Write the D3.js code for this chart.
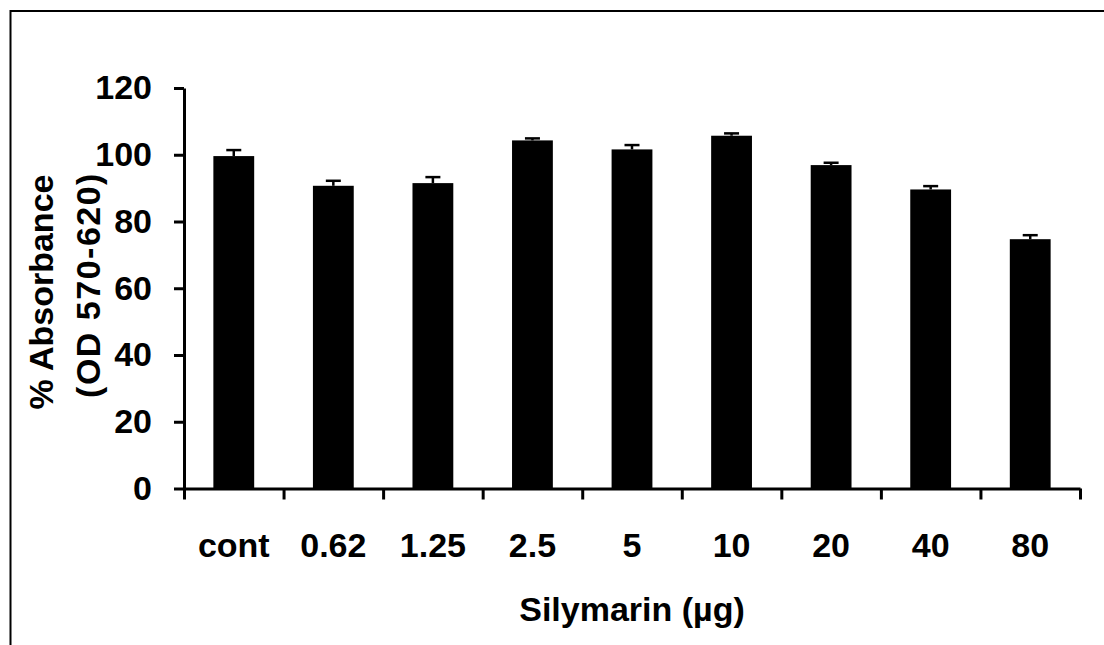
<!DOCTYPE html>
<html>
<head>
<meta charset="utf-8">
<script src="https://cdn.jsdelivr.net/npm/d3@7"></script>
<style>
    html, body { margin: 0; padding: 0; background: #fff; }
    svg text { font-family: "Liberation Sans", Arial, sans-serif; font-weight: bold; fill: #000; }
</style>
</head>
<body>
<div id="chart"></div>
<script>
const categories = ["cont", "0.62", "1.25", "2.5", "5", "10", "20", "40", "80"];
const meanValues = [99.6, 90.7, 91.5, 104.3, 101.6, 105.7, 96.9, 89.6, 74.7];
const errorValues = [1.8, 1.5, 1.8, 0.6, 1.3, 0.7, 0.7, 1.0, 1.2];
const yTickValues = [0, 20, 40, 60, 80, 100, 120];
const xTitle = "Silymarin (µg)";
const yTitleLines = ["% Absorbance", "(OD 570-620)"];

const width = 1104;
const height = 645;
const margin = {left: 184, right: 24, top: 88, bottom: 156.5};
const fontSize = 34;

let data = categories.map((c, i) => ({cat: c, value: meanValues[i], err: errorValues[i]}));

let svg = d3.select("#chart")
    .append("svg")
    .attr("width", width)
    .attr("height", height);

// outer frame (only top and left edges visible)
svg.append("path")
    .attr("d", "M10.5,645V11H1104")
    .attr("fill", "none")
    .attr("stroke", "#000")
    .attr("stroke-width", 2);

let x = d3.scaleBand()
    .domain(categories)
    .range([margin.left, width - margin.right])
    .paddingInner(0.59)
    .paddingOuter(0.295);

let y = d3.scaleLinear()
    .domain([0, 120])
    .range([height - margin.bottom, margin.top]);

// tick positions between categories
let xEdges = d3.scaleLinear()
    .domain([0, categories.length])
    .range([margin.left, width - margin.right]);

// bars
svg.append("g")
    .attr("class", "bars")
    .selectAll("rect")
    .data(data)
    .enter().append("rect")
    .attr("x", d => x(d.cat))
    .attr("y", d => y(d.value))
    .attr("width", x.bandwidth())
    .attr("height", d => y(0) - y(d.value))
    .attr("fill", "#000");

// error bars (upper only)
let errG = svg.append("g").attr("class", "errors")
    .attr("stroke", "#000")
    .attr("stroke-width", 2.5);

errG.selectAll("line.stem")
    .data(data)
    .enter().append("line")
    .attr("class", "stem")
    .attr("x1", d => x(d.cat) + x.bandwidth() / 2)
    .attr("x2", d => x(d.cat) + x.bandwidth() / 2)
    .attr("y1", d => y(d.value))
    .attr("y2", d => y(d.value + d.err));

errG.selectAll("line.cap")
    .data(data)
    .enter().append("line")
    .attr("class", "cap")
    .attr("x1", d => x(d.cat) + x.bandwidth() / 2 - 7.5)
    .attr("x2", d => x(d.cat) + x.bandwidth() / 2 + 7.5)
    .attr("y1", d => y(d.value + d.err))
    .attr("y2", d => y(d.value + d.err));

// y axis
let gy = svg.append("g")
    .attr("transform", `translate(${margin.left},0)`)
    .call(d3.axisLeft(y).tickValues(yTickValues).tickSize(10).tickSizeOuter(0).tickPadding(22));
gy.select(".domain").attr("stroke-width", 3);
gy.selectAll(".tick line").attr("stroke-width", 3);
gy.selectAll(".tick text")
    .style("font-size", fontSize + "px")
    .style("font-family", null);

// x axis: ticks at the category edges
let gx = svg.append("g")
    .attr("transform", `translate(0,${y(0)})`)
    .call(d3.axisBottom(xEdges).tickValues(d3.range(categories.length + 1)).tickSize(11).tickSizeOuter(0).tickFormat(""));
gx.select(".domain").attr("stroke-width", 3);
gx.selectAll(".tick line").attr("stroke-width", 3);

// x labels
svg.append("g")
    .selectAll("text")
    .data(categories)
    .enter().append("text")
    .attr("x", d => x(d) + x.bandwidth() / 2)
    .attr("y", 557)
    .attr("text-anchor", "middle")
    .style("font-size", fontSize + "px")
    .text(d => d);

// x title
svg.append("text")
    .attr("x", (margin.left + width - margin.right) / 2)
    .attr("y", 621)
    .attr("text-anchor", "middle")
    .style("font-size", fontSize + "px")
    .text(xTitle);

// y title, two lines
svg.append("g")
    .selectAll("text")
    .data(yTitleLines)
    .enter().append("text")
    .attr("transform", (d, i) => `translate(${53 + i * 47},${292 - i * 7}) rotate(-90)`)
    .attr("text-anchor", "middle")
    .style("font-size", fontSize + "px")
    .style("letter-spacing", (d, i) => i === 1 ? "1.5px" : null)
    .text(d => d);
</script>
</body>
</html>
